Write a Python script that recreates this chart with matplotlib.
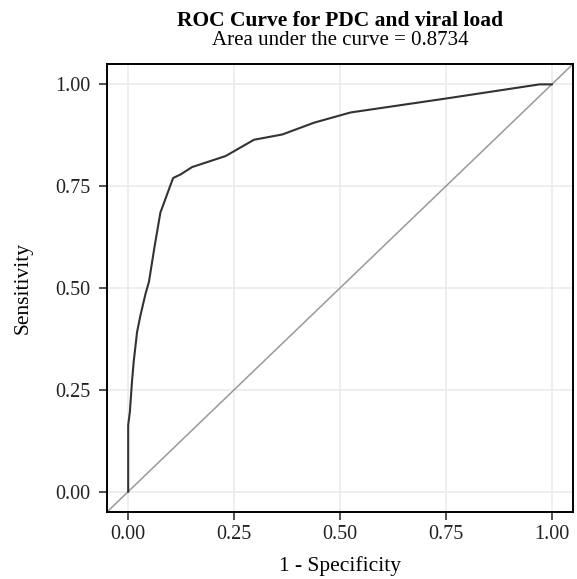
import matplotlib.pyplot as plt

# ROC curve points
fpr = [0.0, 0.0, 0.004, 0.009, 0.013, 0.021, 0.029, 0.041, 0.049, 0.062,
       0.076, 0.106, 0.124, 0.151, 0.230, 0.297, 0.364, 0.439, 0.525,
       0.755, 0.971, 1.0]
tpr = [0.0, 0.163, 0.196, 0.27, 0.319, 0.392, 0.433, 0.486, 0.515, 0.60,
       0.685, 0.770, 0.779, 0.797, 0.824, 0.864, 0.877, 0.906, 0.931,
       0.966, 1.0, 1.0]
ticks = [0.0, 0.25, 0.5, 0.75, 1.0]
tick_labels = ["0.00", "0.25", "0.50", "0.75", "1.00"]
auc = 0.8734

plt.rcParams["font.family"] = ["Liberation Serif", "DejaVu Serif"]

W, H = 577, 579
fig = plt.figure(figsize=(W / 100, H / 100), dpi=100)
ax = fig.add_axes([107 / W, 1 - 512 / H, 466 / W, 448 / H])

ax.set_xlim(-0.05, 1.05)
ax.set_ylim(-0.05, 1.05)
ax.set_xticks(ticks)
ax.set_xticklabels(tick_labels)
ax.set_yticks(ticks)
ax.set_yticklabels(tick_labels)
ax.grid(True, color="#EBEBEB", linewidth=1.2)
ax.set_axisbelow(True)

# diagonal reference line
ax.axline((0, 0), slope=1, color="#999999", linewidth=1.1)
ax.plot(fpr, tpr, color="#333333", linewidth=1.5)

for s in ax.spines.values():
    s.set_color("black")
    s.set_linewidth(1.4)
ax.tick_params(length=5.5, width=1.2, color="#333333", labelsize=14.5,
               labelcolor="#222222")
ax.tick_params(axis="y", pad=6.5)
ax.tick_params(axis="x", pad=4)

ax.set_xlabel("1 - Specificity", fontsize=15.5)
ax.set_ylabel("Sensitivity", fontsize=15.5)
ax.xaxis.set_label_coords(0.5, -(566 - 512) / 448)
ax.yaxis.set_label_coords(-(107 - 23) / 466, 0.5)
ax.xaxis.label.set_va("center")
ax.yaxis.label.set_va("center")

cx = 340 / W
fig.text(cx, 1 - 26 / H, "ROC Curve for PDC and viral load",
         ha="center", va="baseline", fontsize=15.5, fontweight="bold")
fig.text(cx, 1 - 45 / H, "Area under the curve = %.4f" % auc,
         ha="center", va="baseline", fontsize=15)

fig.savefig("out.png", dpi=100, facecolor="white")
